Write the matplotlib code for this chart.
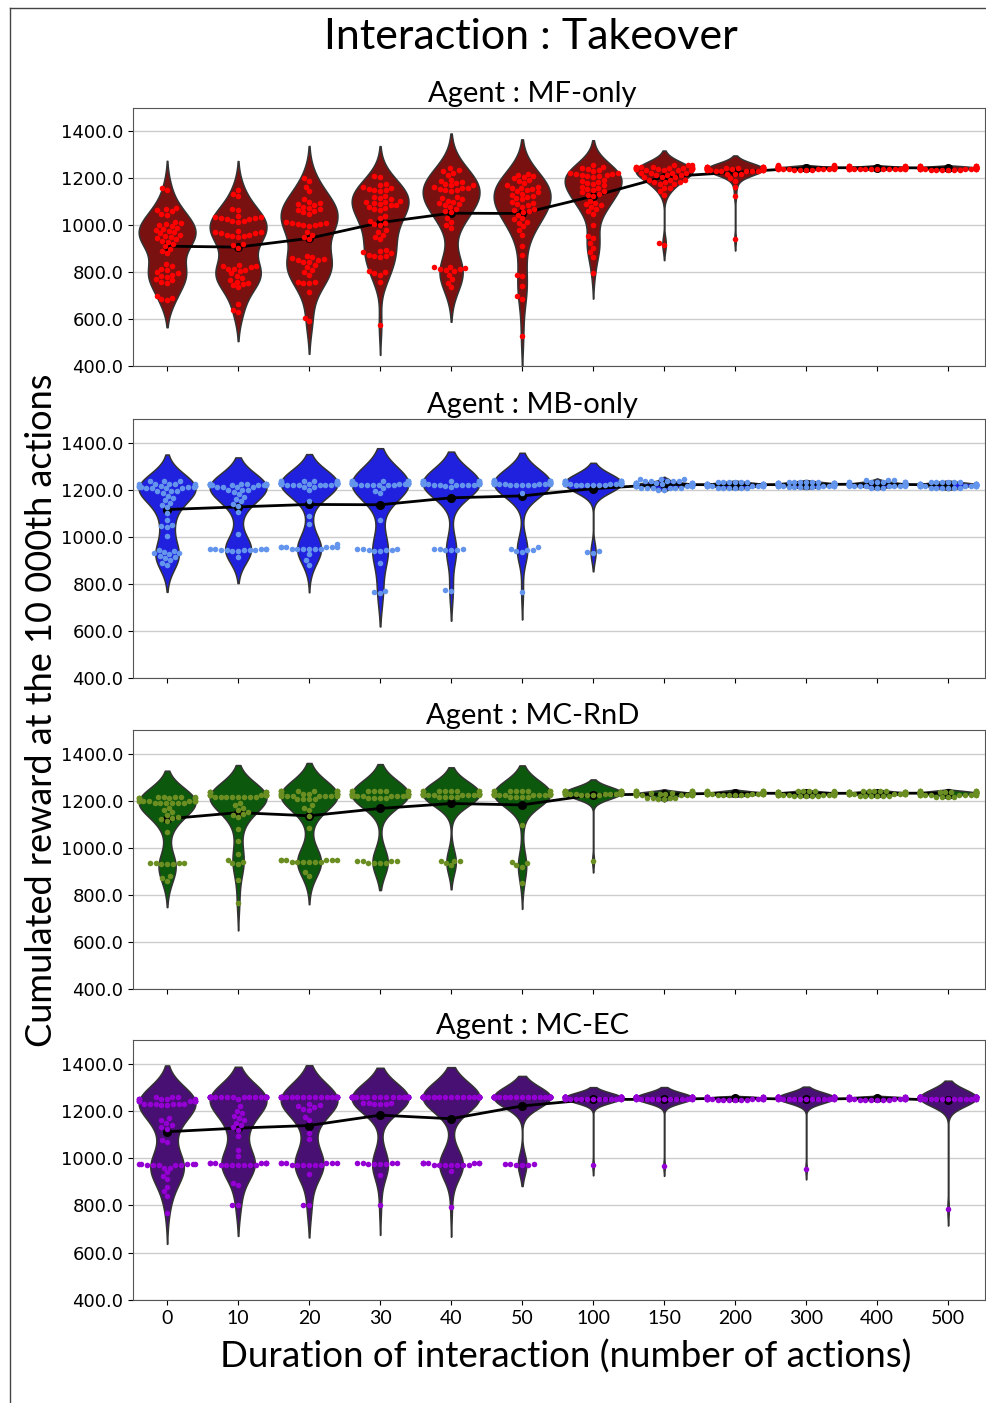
import warnings
import pandas as pd
import seaborn as sns
import matplotlib
matplotlib.use("Agg")
from matplotlib import pyplot as plt
from matplotlib.ticker import FormatStrFormatter
from matplotlib.lines import Line2D

warnings.filterwarnings("ignore")
plt.rcParams['font.family'] = ['Lato', 'DejaVu Sans']

durations = ["0", "10", "20", "30", "40", "50", "100", "150", "200", "300", "400", "500"]
agents = ["MF-only", "MB-only", "MC-RnD", "MC-EC"]
violin_colors = ["darkred", "blue", "darkgreen", "indigo"]
point_colors = ["red", "cornflowerblue", "olivedrab", "darkviolet"]

# valeurs (une liste par durée)
mf_only = [
    [1160, 1150, 1075, 1070, 1065, 1060, 1050, 1045, 1015, 1010, 1005, 1000, 995, 990, 985, 980, 975, 970, 965,
     960, 955, 950, 945, 940, 935, 930, 920, 910, 900, 890, 880, 835, 825, 815, 810, 800, 795, 790, 785, 780,
     770, 765, 760, 755, 700, 690, 685, 680],
    [1150, 1135, 1125, 1070, 1065, 1040, 1035, 1035, 1030, 1030, 1025, 1025, 1020, 1020, 1015, 975, 970, 970,
     965, 965, 960, 960, 955, 955, 950, 920, 915, 905, 830, 825, 825, 820, 815, 815, 810, 805, 795, 785, 775,
     765, 760, 755, 750, 745, 735, 665, 640, 630],
    [1200, 1190, 1165, 1145, 1110, 1100, 1095, 1090, 1085, 1080, 1075, 1070, 1065, 1060, 1055, 1050, 1015, 1010,
     1010, 1005, 1005, 1000, 1000, 995, 970, 960, 950, 940, 870, 865, 860, 855, 850, 850, 845, 845, 830, 820,
     810, 800, 790, 760, 760, 755, 755, 715, 605, 590],
    [1210, 1205, 1175, 1170, 1165, 1160, 1155, 1150, 1150, 1145, 1125, 1120, 1115, 1110, 1105, 1100, 1100, 1095,
     1090, 1085, 1085, 1080, 1075, 1070, 1065, 1040, 1030, 1020, 1010, 1005, 1000, 980, 970, 960, 950, 940, 895,
     890, 885, 880, 875, 870, 870, 865, 805, 800, 795, 790, 760, 575],
    [1245, 1235, 1230, 1225, 1215, 1195, 1190, 1185, 1180, 1175, 1170, 1170, 1165, 1160, 1160, 1155, 1150, 1150,
     1145, 1120, 1115, 1110, 1105, 1100, 1095, 1090, 1085, 1080, 1070, 1060, 1055, 1030, 1015, 1000, 990, 822,
     820, 818, 815, 812, 808, 804, 790, 770, 755, 735],
    [1220, 1215, 1210, 1205, 1200, 1195, 1190, 1180, 1170, 1165, 1160, 1160, 1155, 1150, 1145, 1140, 1135, 1130,
     1125, 1120, 1115, 1110, 1100, 1095, 1090, 1085, 1080, 1070, 1065, 1060, 1055, 1045, 1030, 1025, 1015, 1010,
     995, 980, 960, 910, 875, 790, 782, 740, 698, 685, 530],
    [1255, 1250, 1245, 1240, 1235, 1230, 1225, 1225, 1220, 1220, 1215, 1215, 1210, 1210, 1205, 1195, 1190, 1185,
     1180, 1175, 1170, 1165, 1160, 1155, 1150, 1145, 1140, 1135, 1130, 1125, 1105, 1095, 1090, 1085, 1080, 1070,
     1060, 1050, 1000, 955, 945, 925, 905, 885, 865, 795],
    [1255] * 3 + [1250] * 5 + [1245] * 6 + [1240] * 5 + [1235] * 4 + [1225] * 4 + [1215] * 3 + [1205] * 3
    + [1195] * 3 + [1185] * 3 + [1175] * 2 + [1160] * 2 + [1145, 1130, 925, 915],
    [1250] * 8 + [1245] * 8 + [1240] * 8 + [1235] * 6 + [1230] * 5 + [1220] * 3 + [1200, 1190, 1165, 1125, 940],
    [1236] * 4 + [1240] * 8 + [1243] * 10 + [1246] * 12 + [1249] * 8 + [1252] * 6 + [1255] * 2,
    [1238] * 5 + [1241] * 9 + [1244] * 12 + [1247] * 11 + [1250] * 8 + [1253] * 5,
    [1236] * 6 + [1240] * 9 + [1243] * 11 + [1246] * 10 + [1249] * 8 + [1252] * 6,
]

mb_only = [
    [1235] * 3 + [1225] * 5 + [1215] * 6 + [1210] * 4 + [1205] * 4 + [1195] * 3
    + [1185, 1175, 1165, 1155, 1145, 1135, 1125, 1100, 1070, 1050, 1045, 1040, 1005,
       945, 940, 935, 930, 930, 925, 920, 915, 910, 900, 890, 880],
    [1225] * 10 + [1220] * 8 + [1210] * 4 + [1200] * 3 + [1190, 1180, 1170, 1160, 1150, 1140, 1130, 1105, 1010]
    + [950] * 5 + [945] * 5 + [940] * 2 + [915],
    [1235] * 6 + [1230] * 13 + [1225] * 8 + [1220] * 6 + [1210] * 2 + [1200, 1150, 1090, 1055, 970]
    + [955] * 6 + [950] * 6 + [925, 900, 880],
    [1235] * 8 + [1230] * 8 + [1225] * 8 + [1220] * 6 + [1205, 1195, 1185, 1070] + [950] * 3 + [945] * 3
    + [940] * 2 + [890, 770, 765, 760],
    [1235] * 8 + [1230] * 10 + [1225] * 8 + [1220] * 6 + [1215, 1210] + [948] * 3 + [942] * 3 + [775, 770],
    [1240] + [1235] * 8 + [1230] * 10 + [1225] * 8 + [1220] * 5 + [1185, 955, 950, 945, 945, 940, 935, 765],
    [1235] * 8 + [1230] * 10 + [1225] * 10 + [1220] * 6 + [938, 935, 932],
    [1245] * 3 + [1235] * 5 + [1228] * 10 + [1222] * 14 + [1216] * 10 + [1208] * 6 + [1200] * 2,
    [1232] * 6 + [1226] * 12 + [1220] * 14 + [1214] * 10 + [1208] * 6,
    [1234] * 6 + [1228] * 12 + [1222] * 14 + [1216] * 10 + [1210] * 6,
    [1240] * 3 + [1232] * 8 + [1226] * 12 + [1220] * 14 + [1214] * 8 + [1208] * 3,
    [1232] * 6 + [1226] * 12 + [1220] * 14 + [1214] * 10 + [1206] * 6,
]

mc_rnd = [
    [1215] * 5 + [1210] * 6 + [1200] * 8 + [1190] * 6 + [1170, 1160, 1150, 1140, 1130, 1125, 1120, 1115, 1065]
    + [935] * 4 + [930] * 3 + [880, 870, 860],
    [1235] * 6 + [1225] * 10 + [1215] * 8
    + [1190, 1180, 1170, 1160, 1150, 1145, 1140, 1130, 1080, 1030, 975, 950, 940, 935, 930, 865, 765],
    [1240] * 8 + [1230] * 10 + [1220] * 8 + [1205] * 4 + [1180, 1170, 1160, 1135, 1085] + [950] * 6 + [940] * 6
    + [895, 880],
    [1240] * 8 + [1230] * 10 + [1220] * 8 + [1210] * 4 + [945] * 4 + [935] * 4,
    [1240] * 8 + [1230] * 10 + [1225] * 8 + [1215] * 4 + [945] * 3 + [935, 925],
    [1240] * 8 + [1230] * 10 + [1225] * 8 + [1215] * 4 + [1095, 940, 935, 925, 920, 850],
    [1240] * 8 + [1235] * 10 + [1230] * 10 + [1225] * 4 + [945],
    [1240] * 6 + [1234] * 12 + [1228] * 14 + [1222] * 10 + [1212] * 4 + [1205] * 2,
    [1242] * 5 + [1237] * 10 + [1232] * 14 + [1227] * 12 + [1222] * 6,
    [1241] * 5 + [1236] * 11 + [1231] * 14 + [1226] * 11 + [1220] * 5,
    [1242] * 5 + [1237] * 10 + [1232] * 14 + [1227] * 12 + [1221] * 6,
    [1242] * 6 + [1237] * 10 + [1232] * 14 + [1226] * 10 + [1216] * 4,
]

mc_ec = [
    [1260] * 3 + [1250] * 6 + [1240] * 8 + [1230] * 6 + [1225] * 2 + [1170, 1160, 1150, 1140, 1130, 1125, 1075, 1068]
    + [975] * 5 + [970] * 5 + [960] * 2 + [940, 925, 910, 880, 860, 840, 770],
    [1258] * 23 + [1250, 1220, 1200, 1190, 1180, 1170, 1160, 1150, 1140, 1130, 1120, 1095, 1035, 1010]
    + [978] * 7 + [970] * 7 + [895, 885, 800, 800],
    [1258] * 20 + [1230, 1225, 1220, 1215, 1210, 1205, 1175, 1160, 1105, 1080] + [980] * 6 + [970] * 6
    + [935, 800, 800],
    [1258] * 26 + [1235] * 3 + [1228] * 3 + [980] * 4 + [975] * 4 + [930, 800],
    [1258] * 36 + [978] * 7 + [972] * 7 + [945, 795],
    [1258] * 40 + [976] * 3 + [972] * 3,
    [1258] * 25 + [1252] * 15 + [970],
    [1258] * 25 + [1252] * 15 + [968],
    [1260] * 10 + [1256] * 15 + [1252] * 12 + [1248] * 6,
    [1258] * 25 + [1252] * 15 + [955],
    [1260] * 10 + [1256] * 15 + [1252] * 12 + [1246] * 6,
    [1258] * 25 + [1252] * 15 + [785],
]

all_data = [mf_only, mb_only, mc_rnd, mc_ec]

W, H = 987, 1403
fig = plt.figure(figsize=(W / 100, H / 100), dpi=100)
panel_px = [(108, 366), (419, 678), (730, 989), (1040, 1300)]  # haut / bas en pixels

for i, (name, data) in enumerate(zip(agents, all_data)):
    rows = [(d, v) for d, vals in zip(durations, data) for v in vals]
    df = pd.DataFrame(rows, columns=["dur", "val"])
    top, bot = panel_px[i]
    ax = fig.add_axes([133 / W, 1 - bot / H, 852 / W, (bot - top) / H])
    sns.violinplot(data=df, x="dur", y="val", order=durations, color=violin_colors[i], inner=None,
                   density_norm="width", linewidth=1.1, linecolor="#333333", ax=ax)
    sns.swarmplot(data=df, x="dur", y="val", order=durations, color=point_colors[i], size=4, ax=ax)
    sns.pointplot(data=df, x="dur", y="val", order=durations, color="black", errorbar=None,
                  markersize=5, linewidth=2, ax=ax)
    ax.set_ylim(400, 1500)
    ax.set_xlim(-0.48, 11.52)
    ax.set_yticks([400, 600, 800, 1000, 1200, 1400])
    ax.yaxis.set_major_formatter(FormatStrFormatter('%.1f'))
    for lab in ax.get_yticklabels():
        lab.set_family('DejaVu Sans')
    ax.tick_params(axis='y', labelsize=13)
    ax.tick_params(axis='x', labelsize=14)
    ax.grid(axis='y', color='#cccccc', lw=1)
    ax.set_axisbelow(True)
    for s in ax.spines.values():
        s.set_color('#555555')
    ax.set_xlabel('')
    ax.set_ylabel('')
    if i < 3:
        ax.tick_params(labelbottom=False)
    ax.set_title("Agent : " + name, fontsize=21, x=0.469, pad=4)

fig.text(531 / W, 1 - 37 / H, "Interaction : Takeover", ha='center', va='center', fontsize=31)
fig.text(42 / W, 1 - 710 / H, "Cumulated reward at the 10 000th actions", rotation=90,
         ha='center', va='center', fontsize=26)
fig.text(566 / W, 1 - 1357 / H, "Duration of interaction (number of actions)", ha='center', va='center',
         fontsize=26.5)

fig.add_artist(Line2D([10 / W, 10 / W], [0, 1 - 8 / H], color='#444444', lw=1, transform=fig.transFigure))
fig.add_artist(Line2D([10 / W, 1], [1 - 8 / H, 1 - 8 / H], color='#444444', lw=1, transform=fig.transFigure))

fig.savefig("out.png", dpi=100)
